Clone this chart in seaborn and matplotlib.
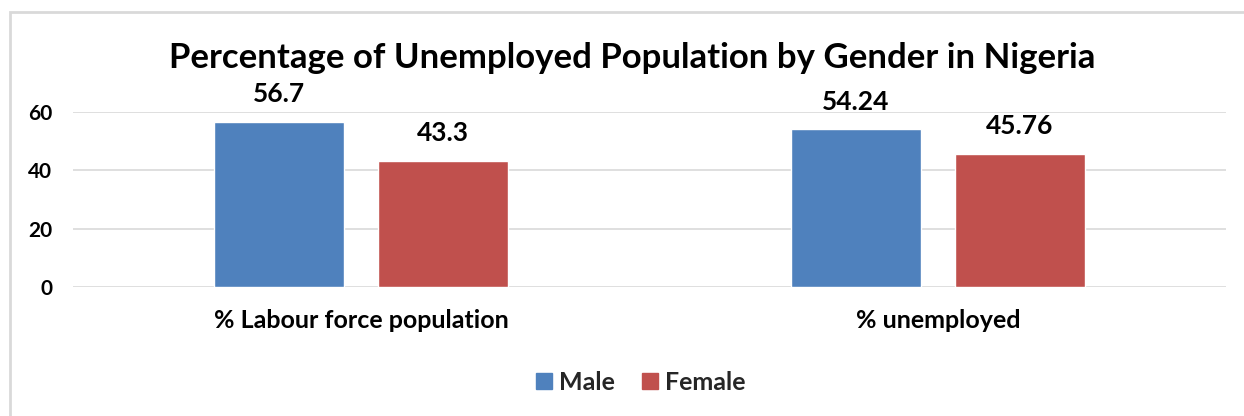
import matplotlib
matplotlib.use("Agg")
import matplotlib.pyplot as plt
from matplotlib.patches import Rectangle
from matplotlib.lines import Line2D
import seaborn as sns
import pandas as pd

categories = ["% Labour force population", "% unemployed"]
series = ["Male", "Female"]
male_values = [56.7, 54.24]
female_values = [43.3, 45.76]
value_labels = {"Male": ["56.7", "54.24"], "Female": ["43.3", "45.76"]}
y_ticks = [0, 20, 40, 60]
title = "Percentage of Unemployed Population by Gender in Nigeria"

df = pd.DataFrame({
    "category": categories * 2,
    "gender": ["Male"] * len(categories) + ["Female"] * len(categories),
    "value": male_values + female_values,
})

sns.set_theme(style="white")
plt.rcParams["font.family"] = ["Lato", "DejaVu Sans"]
plt.rcParams["font.weight"] = "bold"

fig = plt.figure(figsize=(12.44, 4.16), dpi=100)
ax = fig.add_axes([73 / 1244, 1 - 287 / 416, (1226 - 73) / 1244, (287 - 112) / 416])

palette = {"Male": "#4F81BD", "Female": "#C0504D"}
sns.barplot(data=df, x="category", y="value", hue="gender", hue_order=series,
            order=categories, palette=palette, width=0.569, gap=0.207,
            saturation=1, ax=ax, legend=False)

ax.set_ylim(0, 60)
ax.set_yticks(y_ticks)
ax.set_yticklabels([str(t) for t in y_ticks], fontsize=15, fontweight="bold", color="#000000")
ax.tick_params(axis="y", length=0, pad=15)
ax.tick_params(axis="x", length=0, pad=16)
for lbl in ax.get_xticklabels():
    lbl.set_fontsize(18)
    lbl.set_fontweight("bold")
    lbl.set_color("#000000")
ax.set_xlabel("")
ax.set_ylabel("")
ax.yaxis.grid(True, color="#d9d9d9", linewidth=1.2)
ax.set_axisbelow(True)
for s in ax.spines.values():
    s.set_visible(False)

for container, name in zip(ax.containers, series):
    ax.bar_label(container, labels=value_labels[name], padding=11, fontsize=19,
                 fontweight="bold", color="#000000", clip_on=False)

hs = [Line2D([0], [0], marker="s", linestyle="", markersize=11,
             markerfacecolor=palette[s], markeredgecolor=palette[s]) for s in series]
fig.legend(hs, series, loc="center", bbox_to_anchor=(637 / 1244, 1 - 382 / 416),
           ncol=2, frameon=False, prop={"size": 18, "weight": "bold"},
           handletextpad=0.0, columnspacing=0.8, handlelength=1.2)

fig.text(632 / 1244, 1 - 58 / 416, title, ha="center", va="center",
         fontsize=25, fontweight="bold", color="#000000")

fig.patches.append(Rectangle((10 / 1244, -0.1), 1.2, (416 - 12) / 416 + 0.1,
                             transform=fig.transFigure, fill=False,
                             edgecolor="#d9d9d9", linewidth=2))

fig.savefig("out.png", dpi=100, facecolor="white")
